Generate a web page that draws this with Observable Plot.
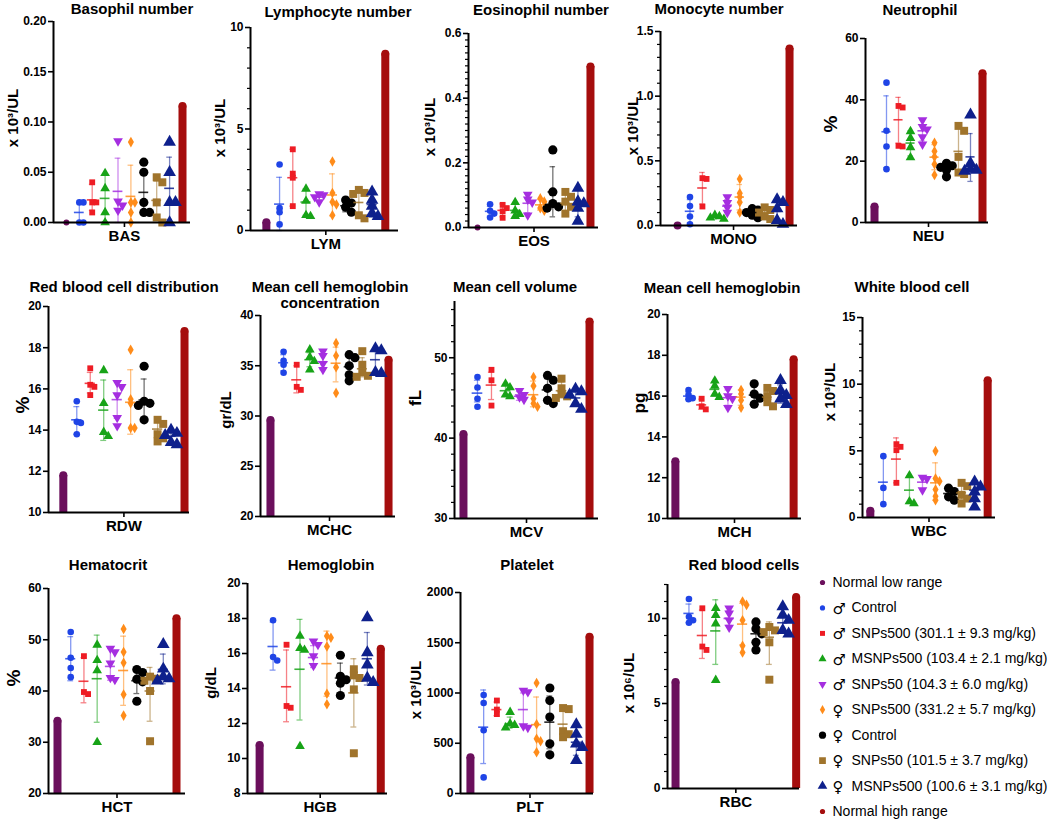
<!DOCTYPE html>
<html><head><meta charset="utf-8">
<script src="https://cdn.jsdelivr.net/npm/d3@7"></script>
<script src="https://cdn.jsdelivr.net/npm/@observablehq/plot@0.6"></script>
<style>
html,body{margin:0;padding:0;background:#fff;}
#chart{position:relative;width:1050px;height:828px;overflow:hidden;font-family:"Liberation Sans",Arial,Helvetica,sans-serif;color:#000;}
#chart svg{position:absolute;}
.ttl{position:absolute;font-weight:bold;font-size:15px;line-height:16px;text-align:center;white-space:nowrap;transform:translate(-50%,-50%);}
.ylab{position:absolute;font-weight:bold;font-size:15px;line-height:16px;white-space:nowrap;transform:translate(-50%,-50%) rotate(-90deg);}
</style></head><body><div id="chart"></div><script>
// ---------- data ----------
const groups = ["Normal low range", "♂ Control", "♂ SNPs500 (301.1 ± 9.3 mg/kg)", "♂ MSNPs500 (103.4 ± 2.1 mg/kg)", "♂ SNPs50 (104.3 ± 6.0 mg/kg)", "♀ SNPs500 (331.2 ± 5.7 mg/kg)", "♀ Control", "♀ SNPs50 (101.5 ± 3.7 mg/kg)", "♀ MSNPs500 (100.6 ± 3.1 mg/kg)", "Normal high range"];
const metricCodes = ["BAS", "LYM", "EOS", "MONO", "NEU", "RDW", "MCHC", "MCV", "MCH", "WBC", "HCT", "HGB", "PLT", "RBC"];
const titles = ["Basophil number", "Lymphocyte number", "Eosinophil number", "Monocyte number", "Neutrophil", "Red blood cell distribution", "Mean cell hemoglobin\nconcentration", "Mean cell volume", "Mean cell hemoglobin", "White blood cell", "Hematocrit", "Hemoglobin", "Platelet", "Red blood cells"];
const yLabels = ["x 10³/UL", "x 10³/UL", "x 10³/UL", "x 10³/UL", "%", "%", "gr/dL", "fL", "pg", "x 10³/UL", "%", "g/dL", "x 10³/UL", "x 10⁶/UL"];
const yDomains = [[0, 0.2], [0, 10], [0, 0.6], [0, 1.5], [0, 60], [10, 20], [20, 40], [30, 57], [10, 20], [0, 15], [20, 60], [8, 20], [0, 2000], [0, 12]];
const yTicks = [[0, 0.05, 0.1, 0.15, 0.2], [0, 5, 10], [0, 0.2, 0.4, 0.6], [0, 0.5, 1, 1.5], [0, 20, 40, 60], [10, 12, 14, 16, 18, 20], [20, 25, 30, 35, 40], [30, 40, 50], [10, 12, 14, 16, 18, 20], [0, 5, 10, 15], [20, 30, 40, 50, 60], [8, 10, 12, 14, 16, 18, 20], [0, 500, 1000, 1500, 2000], [0, 5, 10]];
const yTickLabels = [["0.00", "0.05", "0.10", "0.15", "0.20"], ["0", "5", "10"], ["0.0", "0.2", "0.4", "0.6"], ["0.0", "0.5", "1.0", "1.5"], ["0", "20", "40", "60"], ["10", "12", "14", "16", "18", "20"], ["20", "25", "30", "35", "40"], ["30", "40", "50"], ["10", "12", "14", "16", "18", "20"], ["0", "5", "10", "15"], ["20", "30", "40", "50", "60"], ["8", "10", "12", "14", "16", "18", "20"], ["0", "500", "1000", "1500", "2000"], ["0", "5", "10"]];
const yMinorStep = [0, 1, 0.02, 0.1, 0, 0, 0, 2, 0, 1, 0, 0, 0, 1];
const normalLow = [0, 0.6, 0, 0.03, 6.5, 12, 30, 41, 13, 0.8, 35, 11, 400, 6.5];
const normalHigh = [0.12, 8.9, 0.51, 1.4, 50, 19, 36, 55, 18, 10.6, 55, 16.5, 1600, 11.5];

// individual values per group (♂Ctrl, ♂SNPs500, ♂MSNPs500, ♂SNPs50, ♀SNPs500, ♀Ctrl, ♀SNPs50, ♀MSNPs500)
const BAS_pts = [[0.02, 0.02, 0, 0], [0.04, 0.02, 0.02, 0.01], [0.049, 0.034, 0.01, 0], [0.081, 0.021, 0.017, 0.012], [0.08, 0.02, 0.02, 0.01, 0], [0.06, 0.05, 0.02, 0.01, 0.01], [0.045, 0.04, 0.02, 0.005, 0], [0.08, 0.05, 0.02, 0.02, 0]];
const LYM_pts = [[3.25, 1.1, 0.9, 0.3], [4.0, 2.8, 2.6, 1.2], [2.05, 1.45, 0.75, 0.7], [1.8, 1.75, 1.65, 1.4], [3.4, 1.85, 1.4, 1.28, 0.75], [1.5, 1.35, 1.15, 0.9], [2.0, 1.85, 1.8, 0.75, 0.6], [1.9, 1.5, 1.2, 0.85, 0.7]];
const EOS_pts = [[0.072, 0.052, 0.043, 0.031], [0.07, 0.06, 0.05, 0.03], [0.078, 0.052, 0.041, 0.035], [0.102, 0.087, 0.078, 0.038], [0.09, 0.08, 0.06, 0.052], [0.24, 0.11, 0.074, 0.064, 0.06], [0.11, 0.095, 0.08, 0.064, 0.043], [0.122, 0.08, 0.074, 0.06, 0.02]];
const MONO_pts = [[0.22, 0.15, 0.07, 0.01], [0.366, 0.36, 0.147], [0.08, 0.07, 0.06, 0.05], [0.22, 0.175, 0.14, 0.1], [0.36, 0.25, 0.22, 0.18, 0.1], [0.13, 0.12, 0.1, 0.08, 0.06], [0.14, 0.12, 0.1, 0.07, 0.05], [0.2, 0.18, 0.13, 0.04, 0.01]];
const NEU_pts = [[45.6, 29.9, 24.8, 17.4], [38, 37.5, 25, 24.8], [29.7, 27.5, 24.5, 21.2], [33.4, 31.2, 30.4, 27.9, 25.5], [26, 23.2, 21.4, 19, 15.5], [19.3, 18.5, 18, 17.1, 14.9], [31.5, 29.9, 21.4, 16.3, 15.8], [35.1, 19.3, 17.4, 17.1, 16.8]];
const RDW_pts = [[15.4, 14.4, 14.35, 13.8], [17.0, 16.2, 16.1, 15.7], [16.9, 15.3, 13.9, 13.7], [16.3, 16.1, 15.7, 14.6, 14.2], [17.9, 15.5, 15.3, 14.1, 14.1], [17.1, 15.4, 15.3, 15.2, 14.5], [14.5, 14.3, 13.8, 13.6, 13.45], [14.0, 13.85, 13.75, 13.4, 13.3]];
const MCHC_pts = [[36.4, 35.5, 35.1, 34.3], [35.1, 32.9, 32.6], [36.6, 35.85, 35.45, 34.6], [36.45, 36.0, 35.2, 34.6], [37.25, 36.0, 34.85, 32.3], [36.1, 35.8, 35.0, 34.1, 33.5], [36.45, 35.1, 34.35, 34.0, 33.9], [36.7, 36.5, 34.35, 34.25]];
const MCV_pts = [[47.6, 46.3, 44.9, 43.9], [48.5, 47.2, 44.05], [46.75, 46.3, 45.4, 45.2], [45.9, 45.4, 45.1, 44.8], [47.6, 46.5, 44.9, 44.3, 43.9], [47.8, 47.2, 46.2, 44.7, 44.3], [47.4, 46.2, 45.5, 45.2, 45.0], [46.1, 45.8, 45.4, 44.3, 43.6]];
const MCH_pts = [[16.3, 16.05, 15.9, 15.85], [15.87, 15.5, 15.35], [16.75, 16.5, 16.1, 15.95], [16.36, 16.0, 15.87, 15.43], [16.3, 16.1, 15.8, 15.43], [16.6, 16.1, 15.9, 15.6], [16.4, 16.25, 16.0, 15.7, 15.5], [16.77, 16.28, 16.04, 15.87, 15.6]];
const WBC_pts = [[4.6, 2.22, 1.0], [5.5, 5.3, 5.05, 2.6], [3.15, 1.2, 1.05], [3.0, 2.9, 2.05], [4.98, 2.92, 2.72, 2.1, 1.6, 1.3], [2.2, 1.95, 1.55, 1.3], [2.6, 2.35, 1.7, 1.42, 1.05], [2.68, 2.3, 1.92, 1.42, 0.8]];
const HCT_pts = [[51.5, 46.5, 44.5, 42.7], [46.8, 39.8, 39.4], [49, 46, 44, 30], [48.3, 47.6, 45.4, 42.6, 42.2], [52.1, 47.6, 45.5, 39.3, 35.2], [44.2, 43.6, 42.3, 41.8, 38.0], [42.8, 42.4, 42.0, 40.0, 30.2], [49.1, 44.3, 42.8, 42.4, 42.0]];
const HGB_pts = [[17.9, 15.8, 15.6], [16.5, 13.0, 12.9], [17.0, 16.3, 16.2, 10.7], [16.7, 16.5, 15.85, 15.3], [17.0, 16.9, 16.4, 13.7, 13.1], [15.9, 14.7, 14.5, 14.3, 13.6], [15.1, 14.75, 14.6, 13.95, 10.3], [18.05, 16.05, 15.35, 14.6, 14.35]];
const PLT_pts = [[980, 900, 630, 160], [925, 835, 790], [810, 695, 680, 655], [1025, 1010, 670, 655], [1100, 690, 545, 520, 410], [1050, 925, 760, 495, 385], [850, 840, 620, 590, 560], [685, 590, 495, 460, 330]];
const RBC_pts = [[11.15, 10.1, 9.9, 9.75], [10.6, 8.35, 8.15], [10.6, 10.2, 9.7, 6.37], [10.6, 10.3, 9.9, 9.47], [11.0, 10.8, 9.9, 8.4, 8.0], [9.8, 9.4, 9.1, 8.6, 8.15], [9.5, 9.3, 9.2, 8.6, 6.4], [10.7, 10.2, 9.9, 9.3, 9.1]];

// [mean, mean - SD, mean + SD] per group
const BAS_stats = [[0.01, 0, 0.02], [0.0225, 0.012, 0.038], [0.024, 0.001, 0.047], [0.031, 0, 0.064], [0.026, 0, 0.057], [0.03, 0.009, 0.051], [0.022, 0.003, 0.041], [0.034, 0.003, 0.065]];
const LYM_stats = [[1.3, 0, 2.62], [2.6, 1.2, 4.0], [1.4, 0.75, 2.05], [1.64, 1.42, 1.85], [1.75, 0.72, 2.79], [1.22, 0.92, 1.5], [1.38, 0.7, 2.05], [1.28, 0.65, 1.9]];
const EOS_stats = [[0.05, 0.035, 0.065], [0.053, 0.033, 0.073], [0.053, 0.034, 0.072], [0.075, 0.046, 0.104], [0.07, 0.054, 0.087], [0.11, 0.033, 0.188], [0.075, 0.046, 0.104], [0.07, 0.033, 0.117]];
const MONO_stats = [[0.11, 0.02, 0.2], [0.29, 0.165, 0.41], [0.065, 0.052, 0.078], [0.15, 0.1, 0.2], [0.22, 0.12, 0.317], [0.1, 0.07, 0.13], [0.1, 0.06, 0.14], [0.11, 0.03, 0.19]];
const NEU_stats = [[29.6, 17.9, 41.3], [33.5, 25.9, 40.8], [25.9, 21.7, 29.9], [29.9, 26.6, 33.4], [21.3, 17.2, 25.4], [17.9, 16.0, 19.6], [23.2, 15.8, 32.3], [21.4, 13.4, 29.0]];
const RDW_stats = [[14.5, 13.8, 15.14], [16.27, 15.8, 16.8], [14.97, 13.5, 16.43], [15.48, 14.57, 16.4], [15.35, 13.8, 16.93], [15.46, 14.4, 16.48], [14.05, 13.6, 14.5], [13.7, 13.4, 14.0]];
const MCHC_stats = [[35.3, 34.5, 36.1], [33.6, 32.3, 35.0], [35.6, 34.9, 36.3], [35.4, 34.6, 36.2], [35.25, 33.4, 36.85], [34.9, 33.9, 35.9], [34.7, 33.9, 35.8], [35.6, 34.1, 36.5]];
const MCV_stats = [[45.6, 44.5, 47.2], [46.6, 44.8, 48.2], [45.9, 45.3, 46.6], [45.2, 44.7, 45.8], [45.4, 43.9, 47.1], [46.0, 44.7, 47.4], [45.9, 45.0, 47.0], [45.0, 44.0, 46.0]];
const MCH_stats = [[16.0, 15.85, 16.2], [15.57, 15.35, 15.85], [16.33, 16.0, 16.7], [15.92, 15.55, 16.3], [15.95, 15.55, 16.3], [16.05, 15.7, 16.45], [15.95, 15.6, 16.3], [16.1, 15.65, 16.55]];
const WBC_stats = [[2.65, 1.0, 4.6], [4.38, 2.6, 5.97], [2.05, 1.05, 3.1], [2.65, 2.1, 3.0], [2.6, 1.3, 4.1], [1.8, 1.4, 2.15], [1.85, 1.35, 2.4], [2.05, 1.35, 2.7]];
const HCT_stats = [[46.3, 42.0, 50.6], [41.9, 37.7, 46.5], [42.4, 33.9, 50.9], [44.8, 42.1, 48.3], [44.0, 37.2, 50.7], [42.0, 39.5, 44.3], [40.0, 34.1, 44.6], [44.2, 41.4, 47.2]];
const HGB_stats = [[16.4, 15.05, 17.8], [14.1, 12.1, 16.2], [15.1, 12.2, 17.95], [15.77, 15.2, 16.45], [15.42, 13.56, 17.28], [14.6, 13.75, 15.45], [13.75, 11.8, 15.7], [15.7, 14.2, 17.2]];
const PLT_stats = [[660, 298, 1030], [835, 775, 910], [695, 650, 760], [835, 670, 1000], [685, 410, 960], [710, 445, 970], [690, 550, 830], [510, 380, 660]];
const RBC_stats = [[10.3, 9.75, 10.85], [9.0, 7.65, 10.5], [9.27, 7.3, 11.1], [10.0, 9.6, 10.45], [9.67, 8.45, 10.9], [9.1, 8.5, 9.6], [8.9, 7.3, 9.8], [9.75, 9.25, 10.3]];

const panelPts = [BAS_pts, LYM_pts, EOS_pts, MONO_pts, NEU_pts, RDW_pts, MCHC_pts, MCV_pts, MCH_pts, WBC_pts, HCT_pts, HGB_pts, PLT_pts, RBC_pts];
const panelStats = [BAS_stats, LYM_stats, EOS_stats, MONO_stats, NEU_stats, RDW_stats, MCHC_stats, MCV_stats, MCH_stats, WBC_stats, HCT_stats, HGB_stats, PLT_stats, RBC_stats];

// ---------- styles & layout ----------
const groupColors = ["#6b0f5c", "#1f44e6", "#ee1c24", "#17a317", "#a52ee0", "#ff8c1a", "#000000", "#a0742c", "#0e208c", "#a50d0d"];
const sqrt3 = Math.sqrt(3);
const triangleDown = {draw(ctx, size) { const y = -Math.sqrt(size / (sqrt3 * 3)); ctx.moveTo(0, -y * 2); ctx.lineTo(-sqrt3 * y, y); ctx.lineTo(sqrt3 * y, y); ctx.closePath(); }};
const groupSymbols = ["circle", "square", "triangle", triangleDown, "diamond", "circle", "square", "triangle"];
const groupR = [3.3, 3.3, 3.6, 3.6, 3.2, 4.6, 4.5, 4.7];
const legendSymbols = ["circle", "circle", "square", "triangle", triangleDown, "diamond", "circle", "square", "triangle", "circle"];
const legendR = [2.6, 2.6, 2.8, 3, 3, 2.8, 3.6, 3.8, 3.6, 2.6];
const FONT = '"Liberation Sans", Arial, "DejaVu Sans", sans-serif';

const layout = [
  {ax: 53, end: 190, top: 21, bot: 222, padL: 1.0, padR: 0.62, tx: 132, ty: 9, lx: 13, ly: 118, lf: 15},
  {ax: 250, end: 398, top: 27, bot: 230, padL: 1.2, padR: 1.0, tx: 338, ty: 12, lx: 220, ly: 128, lf: 15},
  {ax: 468, end: 598, top: 33, bot: 227, padL: 0.72, padR: 0.64, tx: 541, ty: 10, lx: 430, ly: 127, lf: 15},
  {ax: 660, end: 797, top: 31, bot: 225, padL: 1.37, padR: 0.64, tx: 719, ty: 9, lx: 633, ly: 126, lf: 15},
  {ax: 865, end: 988, top: 38, bot: 222, padL: 0.75, padR: 0.5, tx: 920, ty: 10, lx: 831, ly: 124, lf: 19},
  {ax: 48, end: 189, top: 306, bot: 512, padL: 1.1, padR: 0.37, tx: 124, ty: 287, lx: 23, ly: 405, lf: 19},
  {ax: 260, end: 395, top: 315, bot: 516, padL: 0.76, padR: 0.53, tx: 330, ty: 295, lx: 226, ly: 410, lf: 15},
  {ax: 454, end: 598, top: 301, bot: 518, padL: 0.64, padR: 0.64, tx: 515, ty: 287, lx: 416, ly: 398, lf: 17},
  {ax: 667, end: 801, top: 314, bot: 518, padL: 0.6, padR: 0.6, tx: 722, ty: 288, lx: 640, ly: 403, lf: 17},
  {ax: 862, end: 995, top: 317, bot: 517, padL: 0.6, padR: 0.6, tx: 912, ty: 287, lx: 830, ly: 392, lf: 15},
  {ax: 48, end: 185, top: 588, bot: 793, padL: 0.68, padR: 0.68, tx: 108, ty: 565, lx: 14, ly: 678, lf: 19},
  {ax: 247, end: 387, top: 583, bot: 793, padL: 0.9, padR: 0.5, tx: 331, ty: 565, lx: 211, ly: 683, lf: 15},
  {ax: 460, end: 593, top: 592, bot: 793, padL: 0.75, padR: 0.3, tx: 527, ty: 565, lx: 416, ly: 690, lf: 15},
  {ax: 667, end: 799, top: 584, bot: 788, padL: 0.6, padR: 0.25, tx: 744, ty: 565, lx: 629, ly: 683, lf: 15}
];

// ---------- drawing ----------
const chart = document.getElementById("chart");
const mL = 42, mR = 8, mT = 8, mB = 30;
const nG = groups.length;
const mid = (nG - 1) / 2;

// small beeswarm offset (in x units) so overlapping points spread sideways
function swarm(vals, r, pxPerY, pxPerX) {
  const placed = [];
  return vals.map(v => {
    const py = v * pxPerY;
    let px = 0;
    for (const s of [0, 1, -1, 2, -2, 3, -3]) {
      const cx = s * r * 1.25;
      if (placed.every(p => Math.hypot(p.x - cx, p.y - py) >= r * 1.2)) { px = cx; break; }
    }
    placed.push({x: px, y: py});
    return px / pxPerX;
  });
}

metricCodes.forEach((code, i) => {
  const Lo = layout[i];
  const [y0, y1] = yDomains[i];
  const xDom = [-Lo.padL, nG - 1 + Lo.padR];
  const pxPerX = (Lo.end - Lo.ax) / (xDom[1] - xDom[0]);
  const pxPerY = (Lo.bot - Lo.top) / (y1 - y0);
  const dots = [];
  panelPts[i].forEach((arr, k) => {
    const off = swarm(arr, groupR[k], pxPerY, pxPerX);
    arr.forEach((v, j) => dots.push({g: k + 1, v, off: off[j]}));
  });
  const stats = panelStats[i].map(([m, lo, hi], k) => ({g: k + 1, m, lo, hi, c: groupColors[k + 1]}));
  const ranges = [{g: 0, v: normalLow[i], c: groupColors[0]}, {g: nG - 1, v: normalHigh[i], c: groupColors[nG - 1]}];
  const tall = ranges.filter(d => d.v > y0), flat = ranges.filter(d => d.v <= y0);
  const ticks = yTicks[i], labels = yTickLabels[i];
  const minor = yMinorStep[i] ? d3.range(y0, y1 + 1e-9, yMinorStep[i]).filter(t => !ticks.some(u => Math.abs(u - t) < 1e-9)) : [];
  const marks = [
    Plot.ruleX(tall, {x: "g", y1: "v", y2: y0, stroke: "c", strokeWidth: 8, insetTop: 4}),
    Plot.dot(tall, {x: "g", y: "v", r: 4, fill: "c", dy: 4}),
    Plot.dot(flat, {x: "g", y: "v", r: 3, fill: "c"}),
    Plot.ruleX(stats, {x: "g", y1: "hi", y2: "lo", stroke: "c", strokeOpacity: 0.55, strokeWidth: 1.3}),
    Plot.ruleY(stats, {y: "hi", x1: d => d.g - 0.22, x2: d => d.g + 0.22, stroke: "c", strokeOpacity: 0.55, strokeWidth: 1.3}),
    Plot.ruleY(stats, {y: "lo", x1: d => d.g - 0.22, x2: d => d.g + 0.22, stroke: "c", strokeOpacity: 0.55, strokeWidth: 1.3})
  ];
  groupSymbols.forEach((sym, k) => {
    marks.push(Plot.dot(dots.filter(d => d.g === k + 1), {x: d => d.g + d.off, y: "v", symbol: sym, r: groupR[k], fill: groupColors[k + 1]}));
  });
  marks.push(Plot.ruleY(stats, {y: "m", x1: d => d.g - 0.38, x2: d => d.g + 0.38, stroke: "c", strokeOpacity: 0.85, strokeWidth: 1.6}));
  if (minor.length) marks.push(Plot.axisY({ticks: minor, tickSize: 3, tickFormat: () => "", label: null, strokeWidth: 1.2}));
  marks.push(
    Plot.axisY({ticks, tickFormat: d => labels[ticks.findIndex(u => Math.abs(u - d) < 1e-9)], tickSize: 5, tickPadding: 2, fontSize: 12, fontWeight: "bold", label: null, strokeWidth: 1.6}),
    Plot.axisX({ticks: [mid], tickFormat: () => code, tickSize: 5, tickPadding: 3, fontSize: 15, fontWeight: "bold", label: null, strokeWidth: 1.6}),
    Plot.ruleY([y0], {stroke: "#000", strokeWidth: 2}),
    Plot.ruleX([xDom[0]], {stroke: "#000", strokeWidth: 2})
  );
  const width = Lo.end - Lo.ax + mL + mR;
  const height = Lo.bot - Lo.top + mT + mB;
  const svg = Plot.plot({
    width, height, marginLeft: mL, marginRight: mR, marginTop: mT, marginBottom: mB,
    x: {domain: xDom},
    y: {domain: [y0, y1]},
    color: {type: "identity"},
    style: {fontFamily: FONT, fontWeight: "bold", color: "#000", background: "transparent", overflow: "visible"},
    marks
  });
  svg.style.left = (Lo.ax - mL) + "px";
  svg.style.top = (Lo.top - mT) + "px";
  chart.appendChild(svg);

  const t = document.createElement("div");
  t.className = "ttl";
  t.style.left = Lo.tx + "px"; t.style.top = Lo.ty + "px";
  titles[i].split("\n").forEach((line, j) => { if (j) t.appendChild(document.createElement("br")); t.appendChild(document.createTextNode(line)); });
  chart.appendChild(t);

  const yl = document.createElement("div");
  yl.className = "ylab";
  yl.style.left = Lo.lx + "px"; yl.style.top = Lo.ly + "px"; yl.style.fontSize = Lo.lf + "px";
  yl.textContent = yLabels[i];
  chart.appendChild(yl);
});

// legend
const legendRows = groups.map((name, k) => {
  const sexed = name[0] === "♂" || name[0] === "♀";
  return {k, sex: sexed ? name[0] : "", rest: sexed ? name.slice(2) : name, sexed};
});
const legMarks = legendRows.map((row, k) => Plot.dot([row], {x: 0, y: "k", symbol: legendSymbols[k], r: legendR[k], fill: groupColors[k]}));
legMarks.push(
  Plot.text(legendRows.filter(d => d.sexed), {x: 1, y: "k", text: "sex", textAnchor: "start", fontSize: 15, fontFamily: '"DejaVu Sans", sans-serif', dy: 1}),
  Plot.text(legendRows.filter(d => d.sexed), {x: 1, y: "k", text: "rest", textAnchor: "start", fontSize: 14, dx: 19}),
  Plot.text(legendRows.filter(d => !d.sexed), {x: 1, y: "k", text: "rest", textAnchor: "start", fontSize: 14})
);
const leg = Plot.plot({
  width: 238, height: 258, marginLeft: 0, marginRight: 0, marginTop: 0, marginBottom: 0,
  x: {domain: [0, 1], range: [10, 20], axis: null},
  y: {domain: [0, nG - 1], range: [12, 241], axis: null},
  color: {type: "identity"},
  style: {fontFamily: FONT, color: "#000", background: "transparent", overflow: "visible"},
  marks: legMarks
});
leg.style.left = "812px"; leg.style.top = "570px";
chart.appendChild(leg);
</script></body></html>
